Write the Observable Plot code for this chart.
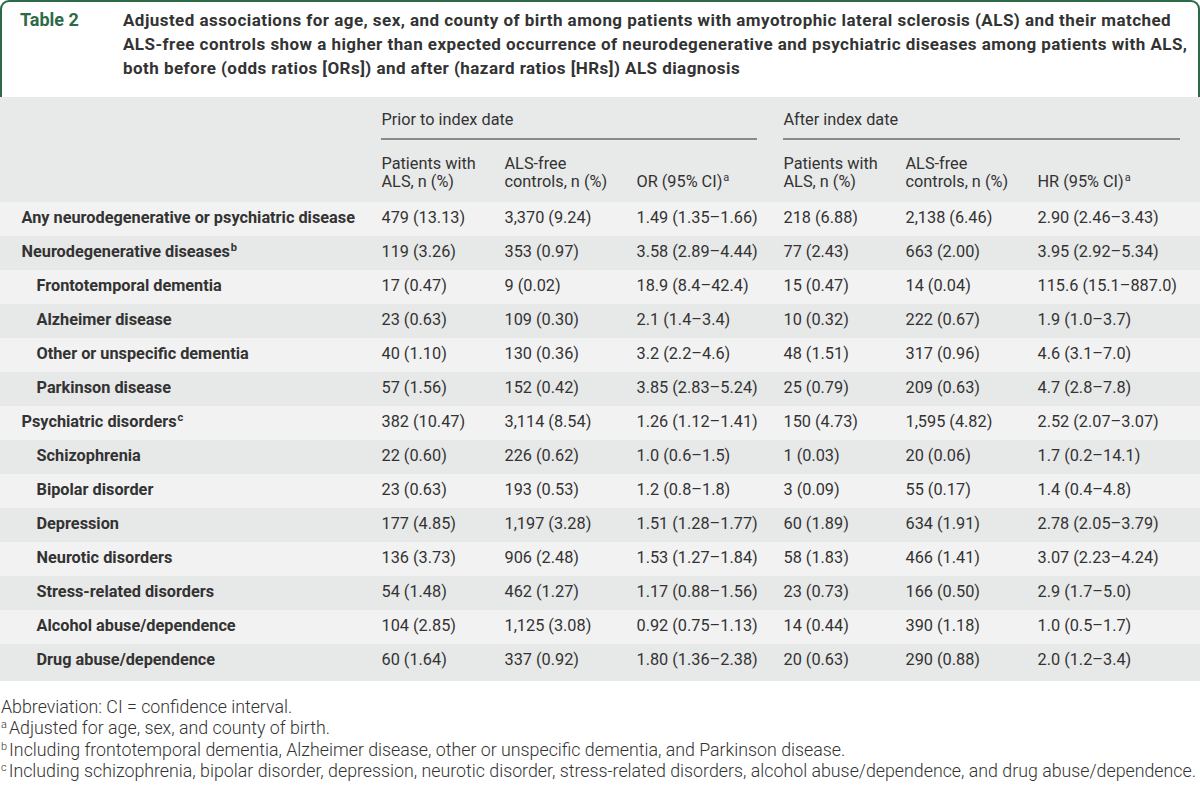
<!DOCTYPE html>
<html>
<head>
<meta charset="utf-8">
<script src="https://cdn.jsdelivr.net/npm/d3@7"></script>
<script src="https://cdn.jsdelivr.net/npm/@observablehq/plot@0.6"></script>
<style>
  html, body { margin: 0; padding: 0; background: #fff; }
  body { width: 1200px; height: 785px; position: relative; overflow: hidden; font-family: Roboto, "Noto Sans", sans-serif; color: #333; }
  #titlebox { position: absolute; left: 0; top: 0; width: 1200px; height: 97px; box-sizing: border-box;
    border: 2.5px solid #2e6a47; border-bottom: none; border-radius: 9px 9px 0 0; }
  #tlabel { position: absolute; left: 18px; top: 6px; font-weight: 700; font-size: 18px; line-height: 24px; color: #2e6a47; }
  #ttext { position: absolute; left: 121px; top: 6px; white-space: nowrap; font-weight: 700; font-size: 17px; letter-spacing: 0.45px; line-height: 24px; color: #333; }
  #chart { position: absolute; left: 0; top: 97px; }
  #notes { position: absolute; left: 1px; top: 696px; font-size: 17.8px; line-height: 21.3px; font-weight: 300; color: #333; white-space: nowrap; }
  #notes sup { font-size: 11px; vertical-align: 6px; line-height: 0; margin-right: 2px; }
</style>
</head>
<body>
<div id="titlebox">
  <div id="tlabel">Table 2</div>
  <div id="ttext">Adjusted associations for age, sex, and county of birth among patients with amyotrophic lateral sclerosis (ALS) and their matched<br>ALS-free controls show a higher than expected occurrence of neurodegenerative and psychiatric diseases among patients with ALS,<br>both before (odds ratios [ORs]) and after (hazard ratios [HRs]) ALS diagnosis</div>
</div>
<div id="chart"></div>
<div id="notes">
  <div>Abbreviation: CI = confidence interval.</div>
  <div><sup>a</sup>Adjusted for age, sex, and county of birth.</div>
  <div><sup>b</sup>Including frontotemporal dementia, Alzheimer disease, other or unspecific dementia, and Parkinson disease.</div>
  <div><sup>c</sup>Including schizophrenia, bipolar disorder, depression, neurotic disorder, stress-related disorders, alcohol abuse/dependence, and drug abuse/dependence.</div>
</div>
<script>
// ---- data ----
const rowLabels = ["Any neurodegenerative or psychiatric disease","Neurodegenerative diseases","Frontotemporal dementia","Alzheimer disease","Other or unspecific dementia","Parkinson disease","Psychiatric disorders","Schizophrenia","Bipolar disorder","Depression","Neurotic disorders","Stress-related disorders","Alcohol abuse/dependence","Drug abuse/dependence"];
const rowIndent = [0,0,1,1,1,1,0,1,1,1,1,1,1,1];
const rowNote = ["","b","","","","","c","","","","","","",""];
const priorALS = ["479 (13.13)","119 (3.26)","17 (0.47)","23 (0.63)","40 (1.10)","57 (1.56)","382 (10.47)","22 (0.60)","23 (0.63)","177 (4.85)","136 (3.73)","54 (1.48)","104 (2.85)","60 (1.64)"];
const priorCtrl = ["3,370 (9.24)","353 (0.97)","9 (0.02)","109 (0.30)","130 (0.36)","152 (0.42)","3,114 (8.54)","226 (0.62)","193 (0.53)","1,197 (3.28)","906 (2.48)","462 (1.27)","1,125 (3.08)","337 (0.92)"];
const priorOR = ["1.49 (1.35–1.66)","3.58 (2.89–4.44)","18.9 (8.4–42.4)","2.1 (1.4–3.4)","3.2 (2.2–4.6)","3.85 (2.83–5.24)","1.26 (1.12–1.41)","1.0 (0.6–1.5)","1.2 (0.8–1.8)","1.51 (1.28–1.77)","1.53 (1.27–1.84)","1.17 (0.88–1.56)","0.92 (0.75–1.13)","1.80 (1.36–2.38)"];
const afterALS = ["218 (6.88)","77 (2.43)","15 (0.47)","10 (0.32)","48 (1.51)","25 (0.79)","150 (4.73)","1 (0.03)","3 (0.09)","60 (1.89)","58 (1.83)","23 (0.73)","14 (0.44)","20 (0.63)"];
const afterCtrl = ["2,138 (6.46)","663 (2.00)","14 (0.04)","222 (0.67)","317 (0.96)","209 (0.63)","1,595 (4.82)","20 (0.06)","55 (0.17)","634 (1.91)","466 (1.41)","166 (0.50)","390 (1.18)","290 (0.88)"];
const afterHR = ["2.90 (2.46–3.43)","3.95 (2.92–5.34)","115.6 (15.1–887.0)","1.9 (1.0–3.7)","4.6 (3.1–7.0)","4.7 (2.8–7.8)","2.52 (2.07–3.07)","1.7 (0.2–14.1)","1.4 (0.4–4.8)","2.78 (2.05–3.79)","3.07 (2.23–4.24)","2.9 (1.7–5.0)","1.0 (0.5–1.7)","2.0 (1.2–3.4)"];
const groupHeaders = ["Prior to index date","After index date"];
const colHeaders = ["Patients with\nALS, n (%)","ALS-free\ncontrols, n (%)","OR (95% CI)","Patients with\nALS, n (%)","ALS-free\ncontrols, n (%)","HR (95% CI)"];
const colHeaderNote = ["","","a","","","a"];

// ---- layout (not data) ----
const labelX = 21, indentW = 15;
const colX = [381, 504, 636, 783, 905, 1037];
const groupSpan = [[381, 757], [783, 1180]];
const ink = "#333";
const fs = 16.3;

const columns = [priorALS, priorCtrl, priorOR, afterALS, afterCtrl, afterHR];
const cells = [];
rowLabels.forEach((row, r) => columns.forEach((col, c) => cells.push({row, c, text: col[r]})));
const labels = rowLabels.map((row, r) => ({row, indent: rowIndent[r]}));
const groups = groupHeaders.map((text, g) => ({text, g}));
const heads = colHeaders.map((text, c) => ({text, c, two: text.includes("\n")}));
const firstRow = () => rowLabels[0];

const plot = Plot.plot({
  width: 1200, height: 584,
  marginTop: 101, marginBottom: 0, marginLeft: 0, marginRight: 0,
  x: {type: "identity", axis: null},
  y: {type: "band", domain: rowLabels, padding: 0, axis: null},
  style: {background: "#e8e9e9", fontFamily: "Roboto, 'Noto Sans', sans-serif", fontSize: fs + "px", color: ink},
  marks: [
    Plot.cell(labels, {y: "row", fill: "#f2f2f2", filter: (d, i) => i % 2 === 0}),
    Plot.cell(labels, {y: "row", fill: "#e7e8e8", filter: (d, i) => i % 2 === 1}),
    Plot.text(labels, {x: d => labelX + d.indent * indentW, y: "row", text: "row", textAnchor: "start", fontWeight: "bold", fill: ink, fontSize: fs, dy: -2}),
    Plot.text(cells, {x: d => colX[d.c], y: "row", text: "text", textAnchor: "start", fill: ink, fontSize: fs, dy: -2}),
    Plot.text(groups, {x: d => groupSpan[d.g][0], y: firstRow, text: "text", textAnchor: "start", fill: ink, fontSize: fs, dy: -100}),
    Plot.ruleY(groups, {y: firstRow, x1: d => groupSpan[d.g][0], x2: d => groupSpan[d.g][1], stroke: "#2b2b2b", strokeWidth: 1, dy: -80.5}),
    Plot.text(heads, {filter: d => d.two, x: d => colX[d.c], y: firstRow, text: "text", textAnchor: "start", fill: ink, fontSize: fs, lineHeight: 1.1, dy: -47}),
    Plot.text(heads, {filter: d => !d.two, x: d => colX[d.c], y: firstRow, text: "text", textAnchor: "start", fill: ink, fontSize: fs, dy: -38})
  ]
});
document.getElementById("chart").appendChild(plot);

// superscript footnote markers
const noteFor = new Map();
rowLabels.forEach((l, i) => { if (rowNote[i]) noteFor.set(l, rowNote[i]); });
colHeaders.forEach((l, i) => { if (colHeaderNote[i]) noteFor.set(l, colHeaderNote[i]); });
plot.querySelectorAll("text").forEach(t => {
  if (t.querySelector("tspan")) return;
  const n = noteFor.get(t.textContent);
  if (n) {
    const ts = document.createElementNS("http://www.w3.org/2000/svg", "tspan");
    ts.setAttribute("font-size", "11");
    ts.setAttribute("dy", "-6");
    ts.setAttribute("dx", "1");
    ts.textContent = n;
    t.appendChild(ts);
  }
});
</script>
</body>
</html>
